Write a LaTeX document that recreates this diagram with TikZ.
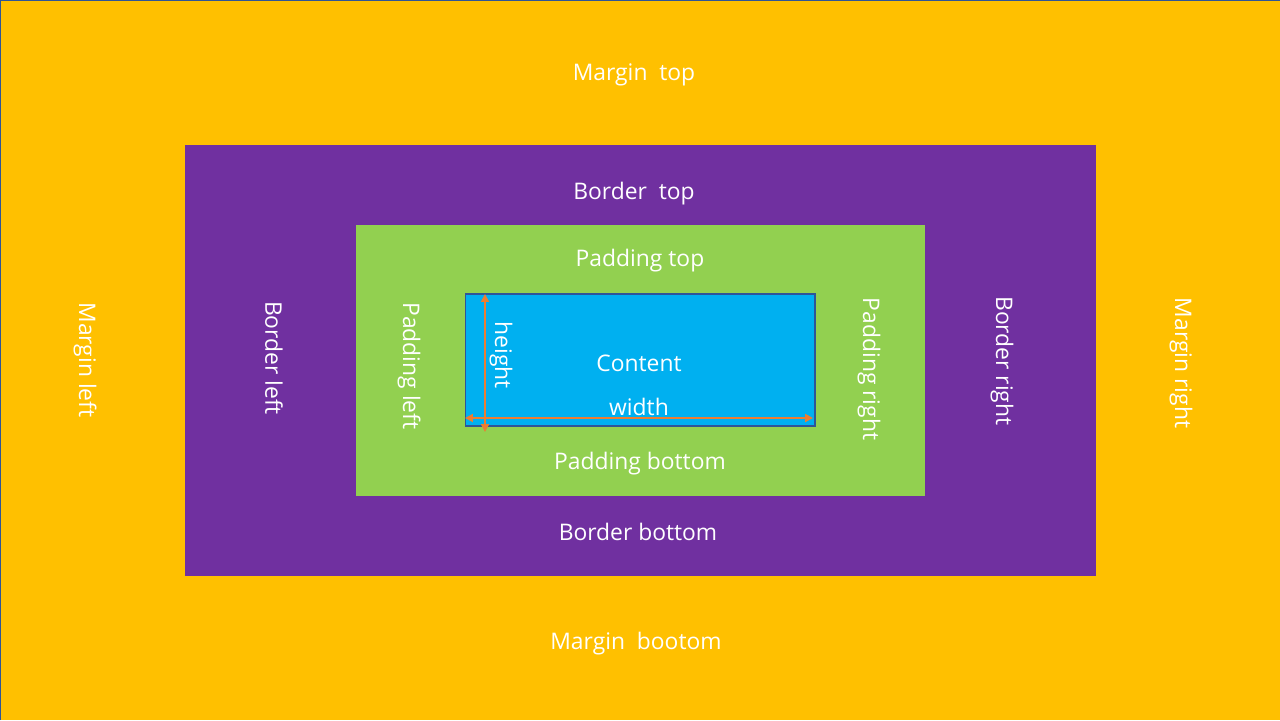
\documentclass[tikz,border=0pt]{standalone}
\usepackage{fontspec}
\setmainfont{Open Sans}
\usetikzlibrary{arrows.meta}
\definecolor{margin}  {HTML}{FFC000}
\definecolor{border}  {HTML}{7030A0}
\definecolor{padding} {HTML}{92D050}
\definecolor{content} {HTML}{00B0F0}
\definecolor{edge}    {HTML}{2F5597}
\definecolor{dimen}   {HTML}{ED7D31}
\tikzset{
  lbl/.style={text=white, inner sep=0pt, font=\fontsize{13}{16}\selectfont},
  dim/.style={{Triangle[length=4.5pt,width=4.5pt]}-{Triangle[length=4.5pt,width=4.5pt]}, dimen, line width=1.3pt}
}

\begin{document}
\begin{tikzpicture}[x=0.02cm, y=-0.02cm]
      \useasboundingbox (0,0) rectangle (1280,720);
      % nested boxes
      \fill[margin] (0,0) rectangle (1280,720);
      \draw[edge, line width=1pt] (0.5,720) -- (0.5,0.5) -- (1280,0.5);
      \fill[border] (185,145) rectangle (1096,576);
      \fill[padding] (356,225) rectangle (925,496);
      \node[draw=edge, fill=content, line width=0.6pt, inner sep=0pt, minimum width=7cm, minimum height=2.64cm] (c) at (640,360) {};
      % labels
      \node[lbl] (mt) at (634,75) {Margin\ \ top};
      \node[lbl] (bt) at (634,194) {Border\ \ top};
      \node[lbl] (pt) at (640,261) {Padding top};
      \node[lbl] (ct) at (639,363) {Content};
      \node[lbl] (w) at (639,407) {width};
      \node[lbl] (pb) at (640,464) {Padding bottom};
      \node[lbl] (bb) at (638,532) {Border bottom};
      \node[lbl] (mb) at (636,644) {Margin\ \ bootom};
      \node[lbl, rotate=-90] (ml) at (85,360) {Margin left};
      \node[lbl, rotate=-90] (bl) at (274,358) {Border left};
      \node[lbl, rotate=-90] (pl) at (409,366) {Padding left};
      \node[lbl, rotate=-90] (h) at (501,355) {height};
      \node[lbl, rotate=-90] (pr) at (869,369) {Padding right};
      \node[lbl, rotate=-90] (br) at (1002,361) {Border right};
      \node[lbl, rotate=-90] (mr) at (1181,363) {Margin right};
      % dimension arrows
      \coordinate (h1) at (485,294);
      \coordinate (h2) at (485,432);
      \coordinate (w1) at (465,418);
      \coordinate (w2) at (813,418);
      \draw[dim] (h1) -- (h2);
      \draw[dim] (w1) -- (w2);
    \end{tikzpicture}
\end{document}
